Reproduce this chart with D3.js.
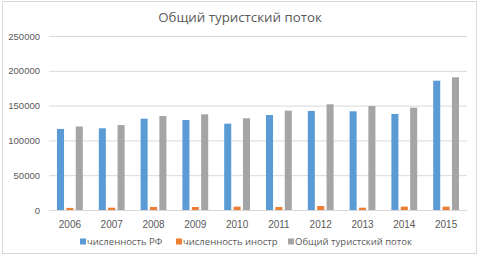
<!DOCTYPE html>
<html>
<head>
<meta charset="utf-8">
<script src="https://cdn.jsdelivr.net/npm/d3@7"></script>
<style>
  body { margin: 0; background: #fff; }
  svg { display: block; font-family: "Open Sans", "Liberation Sans", sans-serif; }
</style>
</head>
<body>
<svg id="chart"></svg>
<script>
// data
const years = ['2006', '2007', '2008', '2009', '2010', '2011', '2012', '2013', '2014', '2015'];
const russians = [116500, 117400, 131200, 129300, 124000, 136500, 142300, 141800, 138000, 185800];
const foreigners = [3000, 3300, 4300, 4300, 4800, 4300, 5700, 3300, 4800, 4800];
const totalFlow = [120000, 122000, 135000, 137500, 131800, 142700, 151900, 149500, 147000, 190700];
const seriesNames = ['численность РФ', 'численность иностр', 'Общий туристский поток'];
const yTicks = [0, 50000, 100000, 150000, 200000, 250000];

const colors = ['#5B9BD5', '#ED7D31', '#A5A5A5'];
const series = [russians, foreigners, totalFlow];

const width = 480, height = 256;
const margin = { top: 36, right: 13, bottom: 46, left: 49 };
const innerW = width - margin.left - margin.right;
const innerH = height - margin.top - margin.bottom;

const svg = d3.select('#chart')
    .attr('width', width)
    .attr('height', height);

// outer frame
svg.append('rect')
    .attr('x', 2.5).attr('y', 1.5)
    .attr('width', 474).attr('height', 252)
    .attr('fill', '#fff')
    .attr('stroke', '#d9d9d9');

svg.append('text')
    .attr('x', 240)
    .attr('y', 22)
    .attr('text-anchor', 'middle')
    .attr('font-size', 13.3)
    .attr('fill', '#595959')
    .text('Общий туристский поток');

const chart = svg.append('g')
    .attr('transform', `translate(${margin.left},${margin.top})`);

const x0 = d3.scaleBand()
    .domain(years)
    .range([0, innerW])
    .padding(0);

const x1 = d3.scaleBand()
    .domain(d3.range(series.length))
    .range([8, x0.bandwidth() - 8])
    .paddingInner(0.25);

const y = d3.scaleLinear()
    .domain([0, 250000])
    .range([innerH, 0]);

// gridlines + y labels
const yAxis = d3.axisLeft(y)
    .tickValues(yTicks)
    .tickSize(-innerW)
    .tickPadding(9)
    .tickFormat(d3.format('d'));

chart.append('g')
    .attr('class', 'y-axis')
    .call(yAxis)
    .call(g => g.select('.domain').remove())
    .call(g => g.selectAll('.tick line').attr('stroke', '#d9d9d9'))
    .call(g => g.selectAll('.tick text')
        .attr('fill', '#595959')
        .attr('font-size', 9.5));

// bars
const groups = chart.selectAll('.year')
    .data(years)
    .join('g')
    .attr('class', 'year')
    .attr('transform', d => `translate(${x0(d)},0)`);

groups.selectAll('rect')
    .data((d, i) => series.map((s, k) => ({ k: k, v: s[i] })))
    .join('rect')
    .attr('x', d => x1(d.k))
    .attr('width', x1.bandwidth())
    .attr('y', d => y(d.v))
    .attr('height', d => y(0) - y(d.v))
    .attr('fill', d => colors[d.k]);

// x labels
const xAxis = d3.axisBottom(x0).tickSize(0).tickPadding(11);
chart.append('g')
    .attr('class', 'x-axis')
    .attr('transform', `translate(0,${innerH})`)
    .call(xAxis)
    .call(g => g.select('.domain').remove())
    .call(g => g.selectAll('.tick text')
        .attr('fill', '#595959')
        .attr('font-size', 10));

// legend
const legendX = [80, 176, 288];
const legend = svg.append('g').attr('class', 'legend');
seriesNames.forEach((name, k) => {
    legend.append('rect')
        .attr('x', legendX[k])
        .attr('y', 238.5)
        .attr('width', 6)
        .attr('height', 6)
        .attr('fill', colors[k]);
    legend.append('text')
        .attr('x', legendX[k] + 7)
        .attr('y', 244.5)
        .attr('font-size', 9.5)
        .attr('fill', '#595959')
        .text(name);
});
</script>
</body>
</html>
